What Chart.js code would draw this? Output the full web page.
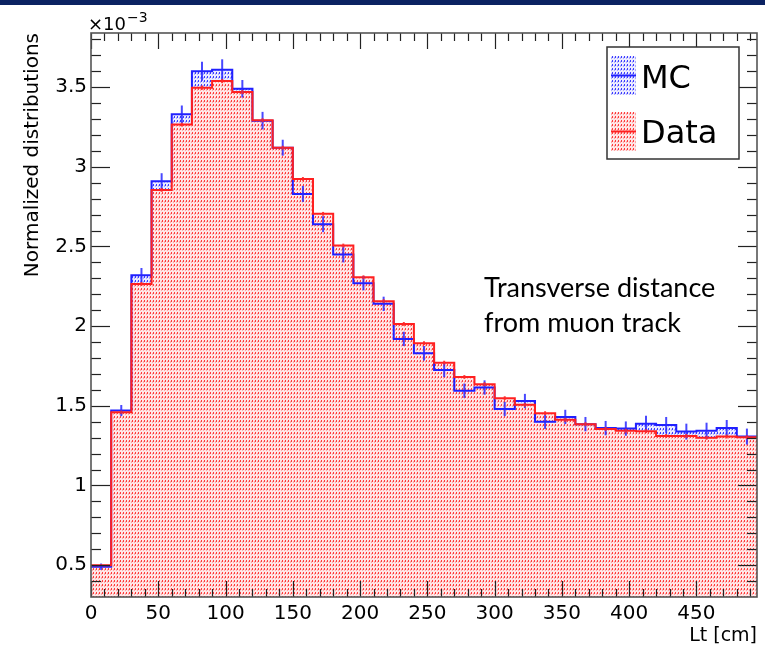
<!DOCTYPE html>
<html>
<head>
<meta charset="utf-8">
<script src="https://cdn.jsdelivr.net/npm/chart.js@4.4.0/dist/chart.umd.min.js"></script>
<style>
body { margin: 0; background: #fff; }
#wrap { position: relative; width: 765px; height: 649px; }
#topbar { position: absolute; left: 0; top: 0; width: 765px; height: 5px; background: #0b2262; }
</style>
</head>
<body>
<div id="wrap">
  <canvas id="myChart" width="765" height="649"></canvas>
  <div id="topbar"></div>
</div>
<script>
// bin edges in cm (Lt), 15 cm bins
var binEdges = [0, 15, 30, 45, 60, 75, 90, 105, 120, 135, 150, 165, 180, 195, 210, 225, 240,
                255, 270, 285, 300, 315, 330, 345, 360, 375, 390, 405, 420, 435, 450, 465, 480, 495];

// normalized contents, in units of 10^-3
var mcValues = [0.49, 1.47, 2.32, 2.91, 3.33, 3.60, 3.61, 3.49, 3.29, 3.12, 2.83, 2.64, 2.45,
                2.27, 2.14, 1.92, 1.83, 1.725, 1.595, 1.615, 1.48, 1.53, 1.40, 1.43, 1.385,
                1.36, 1.357, 1.388, 1.38, 1.338, 1.344, 1.361, 1.307];
var dataValues = [0.50, 1.46, 2.265, 2.855, 3.265, 3.497, 3.538, 3.469, 3.293, 3.12, 2.924, 2.705,
                  2.506, 2.307, 2.157, 2.014, 1.893, 1.771, 1.681, 1.636, 1.548, 1.506, 1.454,
                  1.412, 1.385, 1.355, 1.344, 1.341, 1.311, 1.311, 1.299, 1.307, 1.303];
var mcErrors = [0.02, 0.035, 0.045, 0.05, 0.055, 0.06, 0.065, 0.055, 0.055, 0.05, 0.05, 0.05, 0.05,
                0.045, 0.045, 0.045, 0.045, 0.045, 0.045, 0.045, 0.045, 0.045, 0.045, 0.045, 0.045,
                0.045, 0.045, 0.05, 0.05, 0.05, 0.05, 0.05, 0.05];
var dataErrors = [0.006, 0.01, 0.012, 0.012, 0.012, 0.013, 0.013, 0.013, 0.012, 0.012, 0.012, 0.012,
                  0.012, 0.012, 0.012, 0.012, 0.012, 0.012, 0.012, 0.012, 0.012, 0.012, 0.012, 0.012,
                  0.012, 0.012, 0.012, 0.012, 0.012, 0.012, 0.012, 0.012, 0.012];

var xTicks = [0, 50, 100, 150, 200, 250, 300, 350, 400, 450];
var yTicks = [0.5, 1, 1.5, 2, 2.5, 3, 3.5];

var legendLabels = ['MC', 'Data'];
var noteLines = ['Transverse distance', 'from muon track'];

function makePattern(bg, light, dark) {
    var c = document.createElement('canvas');
    c.width = 3;
    c.height = 4;
    var p = c.getContext('2d');
    p.fillStyle = bg;
    p.fillRect(0, 0, 3, 4);
    p.fillStyle = dark;
    p.fillRect(0, 0, 1, 2);
    p.fillStyle = light;
    p.fillRect(2, 1, 1, 2);
    return p.createPattern(c, 'repeat');
}

var redFill = makePattern('#ffe6e6', '#ffa6a6', '#ff3c3c');
var blueFill = makePattern('#ececff', '#acacff', '#3c3cff');

function histPoints(values) {
    var pts = [];
    for (var i = 0; i < values.length; i++) {
        pts.push({x: binEdges[i], y: values[i]});
    }
    pts.push({x: binEdges[values.length], y: values[values.length - 1]});
    return pts;
}

function line(ctx, x1, y1, x2, y2) {
    ctx.beginPath();
    ctx.moveTo(x1, y1);
    ctx.lineTo(x2, y2);
    ctx.stroke();
}

var rootStyle = {
    id: 'rootStyle',
    afterDatasetsDraw: function(chart) {
        var ctx = chart.ctx;
        var a = chart.chartArea;
        var xs = chart.scales.x;
        var ys = chart.scales.y;
        ctx.save();
        ctx.beginPath();
        ctx.rect(a.left, a.top, a.right - a.left, a.bottom - a.top);
        ctx.clip();

        // error bars
        ctx.lineWidth = 2;
        for (var i = 0; i < mcValues.length; i++) {
            var cx = xs.getPixelForValue((binEdges[i] + binEdges[i + 1]) / 2);
            ctx.strokeStyle = 'rgba(40,40,255,0.85)';
            line(ctx, cx, ys.getPixelForValue(mcValues[i] - mcErrors[i]), cx, ys.getPixelForValue(mcValues[i] + mcErrors[i]));
            ctx.strokeStyle = 'rgba(255,40,40,0.9)';
            line(ctx, cx, ys.getPixelForValue(dataValues[i] - dataErrors[i]), cx, ys.getPixelForValue(dataValues[i] + dataErrors[i]));
        }

        // inner ticks, ROOT style
        ctx.strokeStyle = '#222';
        ctx.lineWidth = 1.2;
        for (var v = 0; v <= 490; v += 10) {
            var px = Math.round(xs.getPixelForValue(v)) + 0.5;
            var len = (v % 50 === 0) ? 16 : 8;
            line(ctx, px, a.bottom, px, a.bottom - len);
            line(ctx, px, a.top, px, a.top + len);
        }
        for (var k = 3; k <= 38; k++) {
            var py = Math.round(ys.getPixelForValue(k / 10)) + 0.5;
            var l2 = (k % 5 === 0) ? 19 : 10;
            line(ctx, a.left, py, a.left + l2, py);
            line(ctx, a.right, py, a.right - l2, py);
        }
        ctx.restore();

        // frame
        ctx.save();
        ctx.strokeStyle = '#555';
        ctx.lineWidth = 1.6;
        ctx.strokeRect(a.left, a.top, a.right - a.left, a.bottom - a.top);
        ctx.restore();
    },
    afterDraw: function(chart) {
        var ctx = chart.ctx;
        ctx.save();
        // exponent
        ctx.fillStyle = '#000';
        ctx.textBaseline = 'alphabetic';
        ctx.font = '18px "DejaVu Sans"';
        ctx.fillText('\u00d710', 88, 30);
        ctx.font = '14px "DejaVu Sans"';
        ctx.fillText('\u22123', 127, 22);

        // legend
        ctx.fillStyle = '#fff';
        ctx.fillRect(607, 47, 132, 112);
        ctx.strokeStyle = '#333';
        ctx.lineWidth = 1.5;
        ctx.strokeRect(607, 47, 132, 112);
        var sw = [[blueFill, '#2020ff', 56], [redFill, '#ff2020', 112]];
        for (var i = 0; i < sw.length; i++) {
            ctx.fillStyle = sw[i][0];
            ctx.fillRect(611, sw[i][2], 25, 39);
            ctx.strokeStyle = sw[i][1];
            ctx.lineWidth = 2;
            line(ctx, 611, sw[i][2] + 19.5, 636, sw[i][2] + 19.5);
        }
        ctx.fillStyle = '#000';
        ctx.font = '32px "DejaVu Sans"';
        ctx.fillText(legendLabels[0], 641, 88);
        ctx.fillText(legendLabels[1], 641, 143);

        // note
        ctx.font = '27px Lato';
        ctx.fillText(noteLines[0], 484, 297);
        ctx.fillText(noteLines[1], 484, 332);
        ctx.restore();
    }
};

var ctx = document.getElementById('myChart').getContext('2d');

var myChart = new Chart(ctx, {
    type: 'line',
    data: {
        datasets: [{
            label: 'Data',
            data: histPoints(dataValues),
            stepped: 'before',
            borderColor: '#ff2020',
            borderWidth: 2,
            backgroundColor: redFill,
            fill: 'start',
            pointRadius: 0
        }, {
            label: 'MC',
            data: histPoints(mcValues),
            stepped: 'before',
            borderColor: '#2020ff',
            borderWidth: 2,
            backgroundColor: blueFill,
            fill: 'start',
            pointRadius: 0
        }]
    },
    options: {
        responsive: false,
        animation: false,
        devicePixelRatio: 1,
        layout: { padding: { top: 33, right: 8, left: 0, bottom: 0 } },
        plugins: {
            legend: { display: false },
            tooltip: { enabled: false },
            filler: { drawTime: 'beforeDatasetsDraw' }
        },
        scales: {
            x: {
                type: 'linear',
                min: 0,
                max: 495,
                afterBuildTicks: function(s) { s.ticks = xTicks.map(function(v) { return {value: v}; }); },
                afterFit: function(s) { s.height = 52; },
                grid: { display: false, drawTicks: false },
                border: { display: false },
                ticks: { color: '#000', font: { family: 'DejaVu Sans', size: 20 }, padding: 5, maxRotation: 0, autoSkip: false,
                         callback: function(v) { return String(v); } },
                title: { display: true, text: 'Lt [cm]', align: 'end', color: '#000',
                         font: { family: 'DejaVu Sans', size: 19 }, padding: { top: 0, bottom: 2 } }
            },
            y: {
                type: 'linear',
                min: 0.3,
                max: 3.84,
                afterBuildTicks: function(s) { s.ticks = yTicks.map(function(v) { return {value: v}; }); },
                afterFit: function(s) { s.width = 91; },
                grid: { display: false, drawTicks: false },
                border: { display: false },
                ticks: { color: '#000', font: { family: 'DejaVu Sans', size: 20 }, padding: 4,
                         callback: function(v) { return String(v); } },
                title: { display: true, text: 'Normalized distributions', align: 'end', color: '#000',
                         font: { family: 'DejaVu Sans', size: 20 }, padding: { top: 21, bottom: 0 } }
            }
        }
    },
    plugins: [rootStyle]
});
</script>
</body>
</html>
